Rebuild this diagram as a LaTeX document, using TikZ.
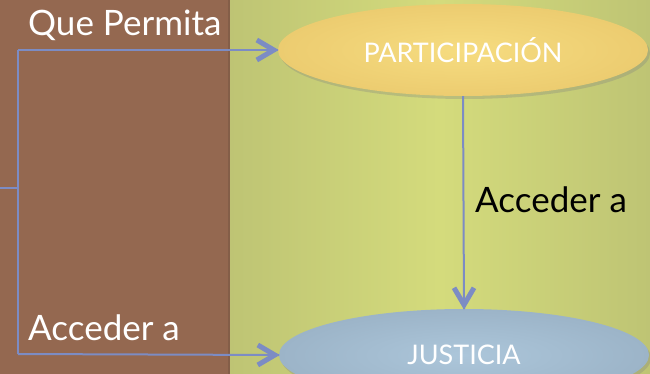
\documentclass[tikz,border=0pt]{standalone}
\usepackage{fontspec}
\setmainfont{Lato}
\usetikzlibrary{calc,shapes.geometric,shadows}
\definecolor{panelbrown}{RGB}{148,104,80}
\definecolor{panelshade}{RGB}{132,94,72}
\definecolor{greenedge}{RGB}{190,196,116}
\definecolor{greenmid}{RGB}{212,219,124}
\definecolor{goldin}{RGB}{246,220,128}
\definecolor{goldout}{RGB}{236,204,112}
\definecolor{bluein}{RGB}{172,198,218}
\definecolor{blueout}{RGB}{156,180,200}
\definecolor{linkblue}{RGB}{124,140,196}
\tikzset{
  ellnode/.style={ellipse, minimum width=370pt, minimum height=92pt, inner sep=0pt,
    font=\fontsize{27}{30}\selectfont, text=white,
    drop shadow={shadow xshift=2pt, shadow yshift=-3pt, opacity=0.3}},
  link/.style={draw=linkblue, line width=2pt},
  chev/.style={draw=linkblue, line width=5pt, line join=miter, line cap=butt},
  bigtxt/.style={font=\fontsize{35}{40}\selectfont, inner sep=0pt, anchor=base west}
}
\begin{document}
\begin{tikzpicture}[x=1pt,y=-1pt]
\useasboundingbox (0,0) rectangle (650,374);
\clip (0,0) rectangle (650,374);
% backgrounds
\shade[left color=greenedge, right color=greenedge, middle color=greenmid] (229,0) rectangle (650,374);
\fill[panelbrown] (0,0) rectangle (229,374);
\fill[panelshade] (228,0) rectangle (230,374);
% ellipses
\node[ellnode, inner color=goldin, outer color=goldout] (part) at (463,50) {PARTICIPACIÓN};
\node[ellnode, inner color=bluein, outer color=blueout] (just) at (464,355) {\raisebox{-4pt}{JUSTICIA}};
% connectors
\coordinate (stub) at (0,188);
\coordinate (mid) at (18,188);
\coordinate (top) at (18,50);
\coordinate (bot) at (18,354);
\draw[link] (stub) -- (mid);
\draw[link] (top) -- (bot);
\draw[link] (top) -- (part.west);
\draw[link] (bot) -- (just.west);
\draw[link] (part.south) -- (just.north);
% arrowheads
\draw[chev] ($(part.west)+(-21,-10)$) -- ($(part.west)+(-4,0)$) -- ($(part.west)+(-21,10)$);
\draw[chev] ($(just.west)+(-21,-10)$) -- ($(just.west)+(-4,0)$) -- ($(just.west)+(-21,10)$);
\draw[chev] ($(just.north)+(-10,-21)$) -- ($(just.north)+(0,-4)$) -- ($(just.north)+(10,-21)$);
% labels
\node[bigtxt, text=white] (qp) at (28,36) {Que Permita};
\node[bigtxt, text=white] (acl) at (28,340) {Acceder a};
\node[bigtxt, text=black] (acr) at (475,212) {Acceder a};
\end{tikzpicture}
\end{document}
